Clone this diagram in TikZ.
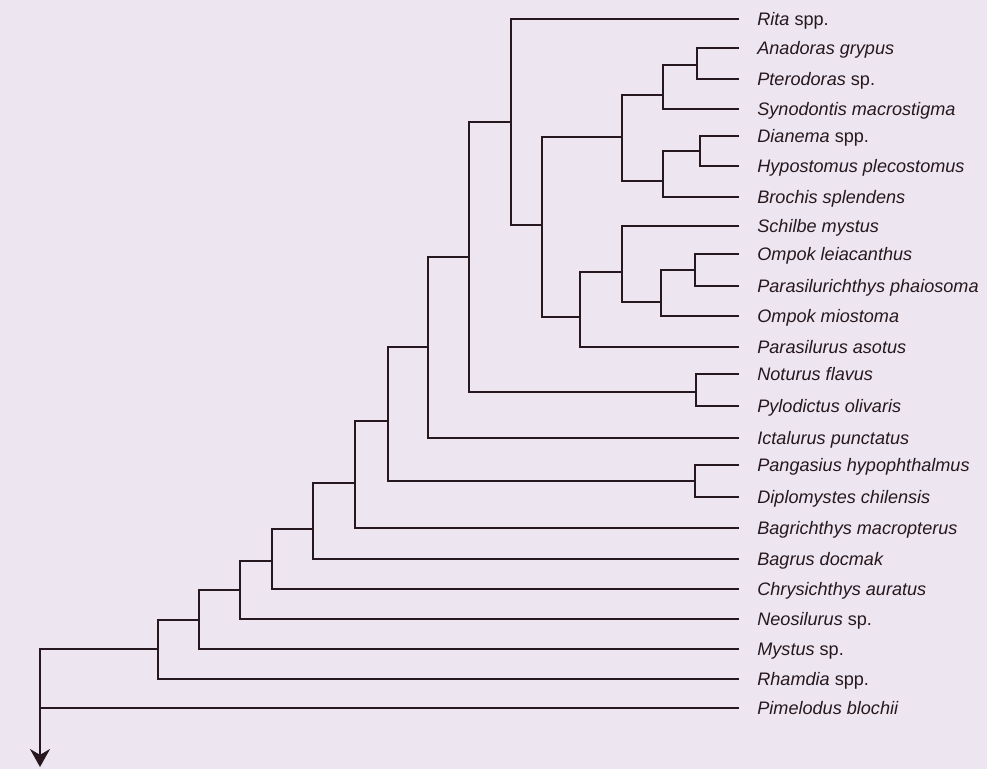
\documentclass[tikz,border=0pt]{standalone}
\usepackage{fontspec}
\setmainfont{Liberation Sans}
\usetikzlibrary{arrows.meta}
\definecolor{paper}{RGB}{237,229,239}
\definecolor{ink}{RGB}{38,24,30}

\begin{document}
\begin{tikzpicture}[x=0.02cm,y=-0.02cm,
  branch/.style={draw=ink,line width=1.25pt,line cap=rect},
  taxon/.style={anchor=west,inner xsep=0.38cm,inner ysep=0pt,text height=0.72em,text depth=0pt,
    font=\fontsize{10.3}{12}\selectfont,text=ink}]
\useasboundingbox (0,0) rectangle (987,769);
\fill[paper] (0,0) rectangle (987,769);

% inner nodes of the tree
\coordinate (root) at (40,649);
\coordinate (tip) at (40,767);
\coordinate (n1) at (158,649);
\coordinate (n2) at (199,620);
\coordinate (n3) at (240,590);
\coordinate (n4) at (272,561);
\coordinate (n5) at (313,529);
\coordinate (n6) at (355,483);
\coordinate (n7) at (388,421);
\coordinate (pd) at (695,481);
\coordinate (n8) at (428,347);
\coordinate (n9) at (469,257);
\coordinate (nt) at (696,392);
\coordinate (n10) at (511,122);
\coordinate (n11) at (542,225);
\coordinate (n12) at (622,137);
\coordinate (n14) at (663,95);
\coordinate (n16) at (697,65);
\coordinate (n15) at (663,181);
\coordinate (n17) at (700,151);
\coordinate (n13) at (580,317);
\coordinate (n18) at (622,272);
\coordinate (n19) at (661,302);
\coordinate (n20) at (695,270);

% taxa
\node[taxon] (rita) at (738,19) {\textit{Rita} spp.};
\node[taxon] (anadoras) at (738,48) {\textit{Anadoras grypus}};
\node[taxon] (pterodoras) at (738,79) {\textit{Pterodoras} sp.};
\node[taxon] (synodontis) at (738,109) {\textit{Synodontis macrostigma}};
\node[taxon] (dianema) at (738,136) {\textit{Dianema} spp.};
\node[taxon] (hypostomus) at (738,166) {\textit{Hypostomus plecostomus}};
\node[taxon] (brochis) at (738,197) {\textit{Brochis splendens}};
\node[taxon] (schilbe) at (738,226) {\textit{Schilbe mystus}};
\node[taxon] (ompokl) at (738,254) {\textit{Ompok leiacanthus}};
\node[taxon] (parasilurichthys) at (738,286) {\textit{Parasilurichthys phaiosoma}};
\node[taxon] (ompokm) at (738,316) {\textit{Ompok miostoma}};
\node[taxon] (parasilurus) at (738,347) {\textit{Parasilurus asotus}};
\node[taxon] (noturus) at (738,374) {\textit{Noturus flavus}};
\node[taxon] (pylodictus) at (738,406) {\textit{Pylodictus olivaris}};
\node[taxon] (ictalurus) at (738,438) {\textit{Ictalurus punctatus}};
\node[taxon] (pangasius) at (738,465) {\textit{Pangasius hypophthalmus}};
\node[taxon] (diplomystes) at (738,497) {\textit{Diplomystes chilensis}};
\node[taxon] (bagrichthys) at (738,528) {\textit{Bagrichthys macropterus}};
\node[taxon] (bagrus) at (738,559) {\textit{Bagrus docmak}};
\node[taxon] (chrysichthys) at (738,589) {\textit{Chrysichthys auratus}};
\node[taxon] (neosilurus) at (738,619) {\textit{Neosilurus} sp.};
\node[taxon] (mystus) at (738,649) {\textit{Mystus} sp.};
\node[taxon] (rhamdia) at (738,679) {\textit{Rhamdia} spp.};
\node[taxon] (pimelodus) at (738,708) {\textit{Pimelodus blochii}};

% branches
\draw[branch] (root) |- (n1);
\draw[branch] (root) |- (pimelodus.west);
\draw[branch,-{Stealth[length=0.36cm,width=0.4cm]}] (root) -- (tip);
\draw[branch] (n1) |- (n2);
\draw[branch] (n1) |- (rhamdia.west);
\draw[branch] (n2) |- (n3);
\draw[branch] (n2) |- (mystus.west);
\draw[branch] (n3) |- (n4);
\draw[branch] (n3) |- (neosilurus.west);
\draw[branch] (n4) |- (n5);
\draw[branch] (n4) |- (chrysichthys.west);
\draw[branch] (n5) |- (n6);
\draw[branch] (n5) |- (bagrus.west);
\draw[branch] (n6) |- (n7);
\draw[branch] (n6) |- (bagrichthys.west);
\draw[branch] (n7) |- (n8);
\draw[branch] (n7) |- (pd);
\draw[branch] (pd) |- (pangasius.west);
\draw[branch] (pd) |- (diplomystes.west);
\draw[branch] (n8) |- (n9);
\draw[branch] (n8) |- (ictalurus.west);
\draw[branch] (n9) |- (n10);
\draw[branch] (n9) |- (nt);
\draw[branch] (nt) |- (noturus.west);
\draw[branch] (nt) |- (pylodictus.west);
\draw[branch] (n10) |- (rita.west);
\draw[branch] (n10) |- (n11);
\draw[branch] (n11) |- (n12);
\draw[branch] (n11) |- (n13);
\draw[branch] (n12) |- (n14);
\draw[branch] (n12) |- (n15);
\draw[branch] (n14) |- (n16);
\draw[branch] (n14) |- (synodontis.west);
\draw[branch] (n16) |- (anadoras.west);
\draw[branch] (n16) |- (pterodoras.west);
\draw[branch] (n15) |- (n17);
\draw[branch] (n15) |- (brochis.west);
\draw[branch] (n17) |- (dianema.west);
\draw[branch] (n17) |- (hypostomus.west);
\draw[branch] (n13) |- (n18);
\draw[branch] (n13) |- (parasilurus.west);
\draw[branch] (n18) |- (schilbe.west);
\draw[branch] (n18) |- (n19);
\draw[branch] (n19) |- (n20);
\draw[branch] (n19) |- (ompokm.west);
\draw[branch] (n20) |- (ompokl.west);
\draw[branch] (n20) |- (parasilurichthys.west);
\end{tikzpicture}
\end{document}
